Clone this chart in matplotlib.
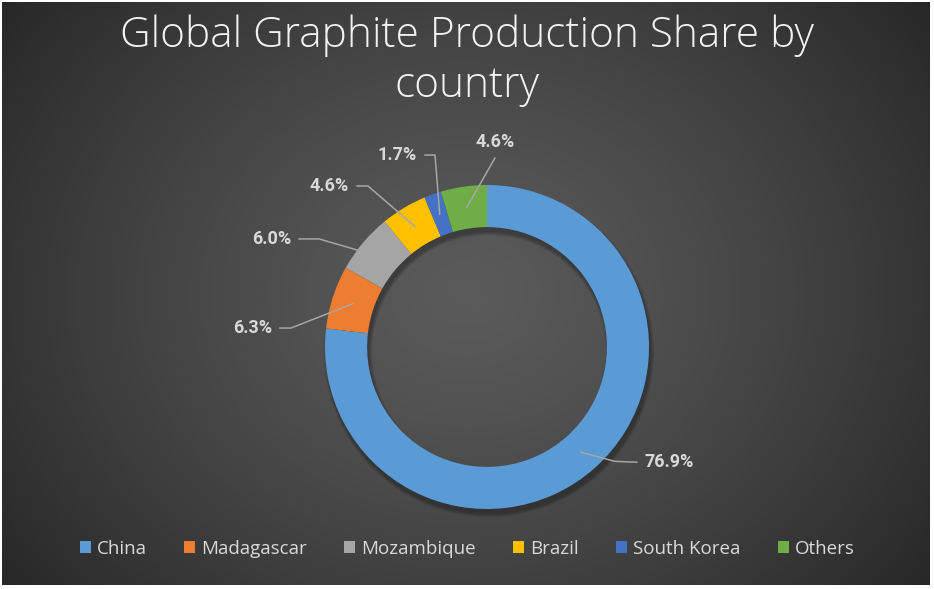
import numpy as np
import matplotlib.pyplot as plt

countries = ['China', 'Madagascar', 'Mozambique', 'Brazil', 'South Korea', 'Others']
shares = [76.9, 6.3, 6.0, 4.6, 1.7, 4.6]
colors = ['#5B9BD5', '#ED7D31', '#A5A5A5', '#FFC000', '#4472C4', '#70AD47']

W, H = 934, 589
fig = plt.figure(figsize=(W / 100, H / 100), dpi=100, facecolor='white')

# radial gradient background
bg = fig.add_axes([2 / W, 4 / H, 927 / W, 583 / H])
yy, xx = np.mgrid[-1:1:300j, -1:1:470j]
rr = np.sqrt(xx ** 2 + (yy * 0.75) ** 2) / np.sqrt(1 + 0.75 ** 2)
shade = 0.355 - 0.20 * rr ** 1.3
bg.imshow(np.dstack([shade] * 3), aspect='auto', extent=[0, 1, 0, 1])
bg.axis('off')

# donut axes: 1 data unit = 162 px, centre at (487, 347) px
px = 162.0
cx, cy = 487, H - 347
ax = fig.add_axes([0, 0, 1, 1])
ax.axis('off')

# soft shadow
for k in range(6):
    ax.pie([1], radius=1.0 + 0.004 * k, center=(0.012, -0.03), colors=['black'],
           wedgeprops=dict(width=0.26 + 0.008 * k, alpha=0.05, linewidth=0))
wedges, _ = ax.pie(shares, radius=1.0, startangle=90, counterclock=False,
                   colors=colors, wedgeprops=dict(width=0.26, linewidth=0))
ax.set_xlim(-cx / px, (W - cx) / px)
ax.set_ylim(-cy / px, (H - cy) / px)
ax.set_aspect('equal')

# label layout: leader elbow, leader end
elbows = [(0.79, -0.706), (-1.21, 0.117), (-1.036, 0.667), (-0.735, 0.994), (-0.321, 1.185), None]
ends = [(0.925, -0.711), (-1.278, 0.117), (-1.16, 0.667), (-0.802, 0.994), (-0.383, 1.185), (0.049, 1.167)]
label_kw = dict(color='#D9D9D9', fontsize=13, fontweight='bold',
                family=['Roboto', 'DejaVu Sans'])

for w, val, el, en in zip(wedges, shares, elbows, ends):
    mid = np.deg2rad((w.theta1 + w.theta2) / 2)
    a = (0.87 * np.cos(mid), 0.87 * np.sin(mid))
    pts = [a] + ([el] if el else []) + [en]
    ax.plot([p[0] for p in pts], [p[1] for p in pts], color='#A6A6A6', lw=1.1)
    txt = f'{val:.1f}%'
    if el is None:
        ax.text(en[0], en[1] + 0.04, txt, ha='center', va='bottom', **label_kw)
    elif en[0] > el[0]:
        ax.text(en[0] + 0.05, en[1], txt, ha='left', va='center', **label_kw)
    else:
        ax.text(en[0] - 0.05, en[1], txt, ha='right', va='center', **label_kw)

title_kw = dict(ha='center', va='center', color='#F2F2F2', fontsize=30.5,
                family=['Open Sans', 'DejaVu Sans'], fontweight='light')
fig.text(0.5, 1 - 36 / H, 'Global Graphite Production Share by', **title_kw)
fig.text(0.5, 1 - 86 / H, 'country', **title_kw)

leg = fig.legend(wedges, countries, loc='center', bbox_to_anchor=(0.5, 1 - 549 / H),
                 ncol=6, frameon=False, handlelength=0.6, handleheight=0.6,
                 handletextpad=0.3, columnspacing=2.0,
                 prop=dict(family=['Open Sans', 'DejaVu Sans'], size=13.5))
for t in leg.get_texts():
    t.set_color('#D9D9D9')

fig.savefig('out.png', dpi=100, facecolor=fig.get_facecolor())
